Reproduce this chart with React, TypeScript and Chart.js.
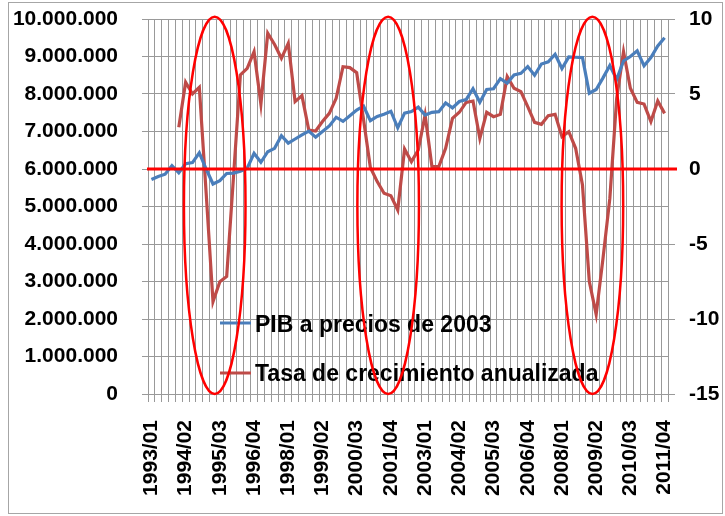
import React, { useEffect, useRef } from 'react';
import { Chart, registerables } from 'chart.js';

Chart.register(...registerables);

const years = [1993, 1994, 1995, 1996, 1997, 1998, 1999, 2000, 2001, 2002, 2003, 2004, 2005, 2006, 2007, 2008, 2009, 2010, 2011];
const quarterCodes = ['01', '02', '03', '04'];
const categories = years.flatMap((y) => quarterCodes.map((q) => `${y}/${q}`));

// PIB a precios de 2003
const pibValues = [
  5720000, 5800000, 5860000, 6090000, 5900000, 6140000, 6170000, 6430000, 6000000, 5600000,
  5690000, 5880000, 5890000, 5940000, 6020000, 6420000, 6180000, 6460000, 6550000, 6890000,
  6690000, 6800000, 6910000, 7010000, 6850000, 7000000, 7150000, 7380000, 7270000, 7420000,
  7570000, 7680000, 7290000, 7400000, 7460000, 7540000, 7100000, 7490000, 7530000, 7650000,
  7440000, 7510000, 7530000, 7760000, 7630000, 7800000, 7850000, 8140000, 7780000, 8120000,
  8140000, 8410000, 8290000, 8510000, 8550000, 8730000, 8500000, 8800000, 8860000, 9060000,
  8680000, 8990000, 8980000, 8970000, 8020000, 8120000, 8430000, 8760000, 8390000, 8880000,
  9000000, 9150000, 8750000, 8970000, 9280000, 9500000,
];

// Tasa de crecimiento anualizada (%)
const tasaValues = [
  null, null, null, null, 2.78, 5.78, 5.0, 5.44, -1.6, -8.84,
  -7.51, -7.16, -0.5, 6.27, 6.71, 7.82, 4.33, 9.05, 8.3, 7.38,
  8.38, 4.49, 4.89, 2.6, 2.53, 3.16, 3.71, 4.71, 6.82, 6.76,
  6.42, 3.3, 0.1, -0.84, -1.62, -1.78, -2.73, 1.33, 0.49, 1.27,
  3.6, 0.16, 0.16, 1.38, 3.38, 3.78, 4.44, 4.53, 2.04, 3.78,
  3.49, 3.64, 6.16, 5.38, 5.16, 4.16, 3.11, 2.98, 3.56, 3.64,
  2.16, 2.49, 1.38, -1.07, -7.51, -9.69, -5.96, -1.96, 4.71, 7.82,
  5.38, 4.44, 4.33, 3.16, 4.53, 3.71,
];

const seriesNames = ['PIB a precios de 2003', 'Tasa de crecimiento anualizada'];
const seriesColors = ['#4A7EBB', '#BE4B48'];

const leftTicksMin = 0;
const leftTicksMax = 10000000;
const leftStep = 1000000;
const rightTicksMin = -15;
const rightTicksMax = 10;
const rightStep = 5;

// Highlight ellipses (category index of centre)
const highlightCenters = [9.25, 34.6, 64.45];
const highlightHalfWidth = 4.5; // in categories
const highlightTop = 10060000; // left-axis value
const highlightBottom = 0;

const FONT = "'Liberation Sans', Arial, sans-serif";
const GRID = '#999999';

const fmtDots = (v: number) => String(Math.round(v)).replace(/\B(?=(\d{3})+(?!\d))/g, '.');

const decorPlugin = {
  id: 'decor',
  beforeDraw(chart: any) {
    const ctx = chart.ctx;
    ctx.save();
    ctx.fillStyle = '#ffffff';
    ctx.fillRect(0, 0, chart.width, chart.height);
    ctx.strokeStyle = '#a6a6a6';
    ctx.lineWidth = 1;
    ctx.strokeRect(8.5, 2.5, 714, 511);
    ctx.restore();
  },
  afterDatasetsDraw(chart: any) {
    const ctx = chart.ctx;
    const area = chart.chartArea;
    const y1 = chart.scales.y1;
    const yz = y1.getPixelForValue(0);
    ctx.save();
    ctx.strokeStyle = '#ff0000';
    ctx.lineWidth = 3;
    ctx.beginPath();
    ctx.moveTo(area.left - 1, yz);
    ctx.lineTo(area.right + 9, yz);
    ctx.stroke();
    ctx.restore();
  },
  afterDraw(chart: any) {
    const ctx = chart.ctx;
    const xs = chart.scales.x;
    const ys = chart.scales.y;
    // legend
    ctx.save();
    const rows = [
      { y: 323, base: 331.5 },
      { y: 373, base: 381 },
    ];
    seriesNames.forEach((name, i) => {
      ctx.strokeStyle = seriesColors[i];
      ctx.lineWidth = 3;
      ctx.beginPath();
      ctx.moveTo(220, rows[i].y);
      ctx.lineTo(251, rows[i].y);
      ctx.stroke();
      ctx.fillStyle = '#000';
      ctx.font = `bold 23px ${FONT}`;
      ctx.textAlign = 'left';
      ctx.textBaseline = 'alphabetic';
      ctx.fillText(name, 255, rows[i].base);
    });
    // ellipses
    const step = xs.getPixelForValue(1) - xs.getPixelForValue(0);
    const x0 = xs.getPixelForValue(0);
    ctx.strokeStyle = '#ff0000';
    ctx.lineWidth = 2.5;
    highlightCenters.forEach((c) => {
      const cx = x0 + c * step;
      const top = ys.getPixelForValue(highlightTop);
      const bot = ys.getPixelForValue(highlightBottom);
      ctx.beginPath();
      ctx.ellipse(cx, (top + bot) / 2, highlightHalfWidth * step, (bot - top) / 2, 0, 0, Math.PI * 2);
      ctx.stroke();
    });
    ctx.restore();
  },
};

export default function App() {
  const ref = useRef<HTMLCanvasElement | null>(null);
  useEffect(() => {
    document.body.style.margin = '0';
    const canvas = ref.current;
    if (!canvas) return;
    const chart = new Chart(canvas, {
      type: 'line',
      data: {
        labels: categories,
        datasets: [
          {
            label: seriesNames[0],
            data: pibValues,
            borderColor: seriesColors[0],
            backgroundColor: seriesColors[0],
            borderWidth: 3.2,
            pointRadius: 0,
            tension: 0,
            yAxisID: 'y',
          },
          {
            label: seriesNames[1],
            data: tasaValues,
            borderColor: seriesColors[1],
            backgroundColor: seriesColors[1],
            borderWidth: 3.2,
            pointRadius: 0,
            tension: 0,
            yAxisID: 'y1',
          },
        ],
      },
      options: {
        responsive: false,
        animation: false,
        events: [],
        layout: { padding: { top: 19, left: 0, right: 0, bottom: 0 } },
        plugins: { legend: { display: false }, tooltip: { enabled: false } },
        scales: {
          x: {
            type: 'category',
            offset: true,
            grid: { offset: true, color: GRID, lineWidth: 1, tickLength: 8 },
            border: { color: GRID },
            ticks: {
              autoSkip: false,
              minRotation: 90,
              maxRotation: 90,
              padding: 18,
              color: '#000',
              font: { family: FONT, size: 21, weight: 'bold' },
              callback: (_v: any, i: number) => (i % 5 === 0 ? categories[i] : ''),
            },
            afterFit: (s: any) => {
              s.height = 122;
              s.paddingLeft = 0;
              s.paddingRight = 0;
            },
          },
          y: {
            position: 'left',
            min: leftTicksMin,
            max: leftTicksMax,
            grid: { color: GRID, lineWidth: 1, tickLength: 6 },
            border: { color: GRID },
            ticks: {
              stepSize: leftStep,
              padding: 24,
              color: '#000',
              font: { family: FONT, size: 21, weight: 'bold' },
              callback: (v: any) => fmtDots(Number(v)),
            },
            afterFit: (s: any) => {
              s.width = 148;
              s.paddingTop = 0;
              s.paddingBottom = 0;
            },
          },
          y1: {
            position: 'right',
            min: rightTicksMin,
            max: rightTicksMax,
            grid: { drawOnChartArea: false, color: GRID, lineWidth: 1, tickLength: 7 },
            border: { color: GRID },
            ticks: {
              stepSize: rightStep,
              padding: 14,
              color: '#000',
              font: { family: FONT, size: 21, weight: 'bold' },
            },
            afterFit: (s: any) => {
              s.width = 57;
              s.paddingTop = 0;
              s.paddingBottom = 0;
            },
          },
        },
      },
      plugins: [decorPlugin],
    } as any);
    return () => chart.destroy();
  }, []);
  return (
    <div style={{ width: 725, height: 516 }}>
      <canvas ref={ref} width={725} height={516} style={{ display: 'block', width: 725, height: 516 }} />
    </div>
  );
}
